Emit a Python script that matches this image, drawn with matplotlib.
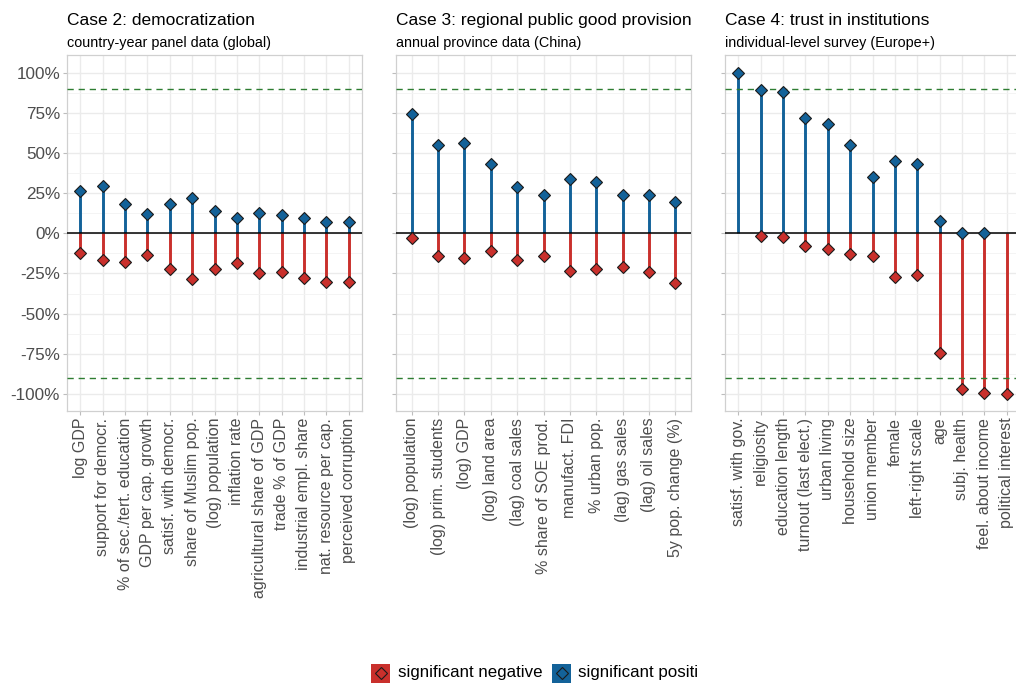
import numpy as np
import matplotlib
matplotlib.use("Agg")
import matplotlib.pyplot as plt
from matplotlib.patches import Rectangle
from matplotlib.lines import Line2D

plt.rcParams['font.family'] = ['Liberation Sans', 'DejaVu Sans']

nan = np.nan

# Case 2: democratization
cats_a = ["log GDP", "support for democr.", "% of sec./tert. education",
          "GDP per cap. growth", "satisf. with democr.", "share of Muslim pop.",
          "(log) population", "inflation rate", "agricultural share of GDP",
          "trade % of GDP", "industrial empl. share", "nat. resource per cap.",
          "perceived corruption"]
pos_a = [0.265, 0.295, 0.18, 0.12, 0.18, 0.22, 0.137, 0.095, 0.127, 0.114, 0.098, 0.073, 0.073]
neg_a = [-0.124, -0.168, -0.18, -0.135, -0.222, -0.286, -0.22, -0.185, -0.249, -0.239, -0.28, -0.30, -0.30]

# Case 3: regional public good provision
cats_b = ["(log) population", "(log) prim. students", "(log) GDP", "(log) land area",
          "(lag) coal sales", "% share of SOE prod.", "manufact. FDI", "% urban pop.",
          "(lag) gas sales", "(lag) oil sales", "5y pop. change (%)"]
pos_b = [0.74, 0.552, 0.564, 0.429, 0.286, 0.239, 0.336, 0.317, 0.237, 0.239, 0.193]
neg_b = [-0.031, -0.141, -0.156, -0.11, -0.166, -0.141, -0.237, -0.222, -0.207, -0.239, -0.309]

# Case 4: trust in institutions
cats_c = ["satisf. with gov.", "religiosity", "education length", "turnout (last elect.)",
          "urban living", "household size", "union member", "female", "left-right scale",
          "age", "subj. health", "feel. about income", "political interest"]
pos_c = [1.0, 0.89, 0.88, 0.72, 0.68, 0.55, 0.35, 0.452, 0.434, 0.079, 0.0, 0.0, nan]
neg_c = [nan, -0.019, -0.021, -0.081, -0.097, -0.127, -0.143, -0.27, -0.259, -0.745, -0.971, -0.996, -1.0]

titles = ["Case 2: democratization", "Case 3: regional public good provision",
          "Case 4: trust in institutions"]
subtitles = ["country-year panel data (global)", "annual province data (China)",
             "individual-level survey (Europe+)"]

y_ticks = [-1.0, -0.75, -0.5, -0.25, 0.0, 0.25, 0.5, 0.75, 1.0]
y_labels = ["-100%", "-75%", "-50%", "-25%", "0%", "25%", "50%", "75%", "100%"]
threshold = 0.9

legend_labels = ["significant negative", "significant positi"]

BLUE = "#136299"
RED = "#c9302c"
GREEN = "#2e7d32"
GRID = "#ebebeb"
BORDER = "#d0d0d0"
TXT = "#4d4d4d"

W, H = 1016, 683
fig = plt.figure(figsize=(W / 100, H / 100), dpi=100)

panel_left = [67, 396, 725]
panel_w = 295
top_px, bot_px = 55, 410.7

panels = [(cats_a, pos_a, neg_a), (cats_b, pos_b, neg_b), (cats_c, pos_c, neg_c)]

for i, (cats, pos, neg) in enumerate(panels):
    x0 = panel_left[i]
    ax = fig.add_axes([x0 / W, 1 - bot_px / H, panel_w / W, (bot_px - top_px) / H])
    n = len(cats)
    x = np.arange(1, n + 1)
    pos = np.asarray(pos, float)
    neg = np.asarray(neg, float)

    ax.set_xlim(0.4, n + 0.6)
    ax.set_ylim(-1.104, 1.11)

    # grid
    ax.set_yticks(y_ticks)
    ax.set_yticks([v + 0.125 for v in y_ticks[:-1]], minor=True)
    ax.set_xticks(x)
    ax.grid(True, which="major", color=GRID, lw=1.0, zorder=0)
    ax.grid(True, which="minor", axis="y", color="#f3f3f3", lw=0.6, zorder=0)
    ax.set_axisbelow(True)

    for s in ax.spines.values():
        s.set_color(BORDER)
        s.set_linewidth(0.9)

    # stems
    for xi, p in zip(x, pos):
        if not np.isnan(p):
            ax.plot([xi, xi], [0, p], color=BLUE, lw=2.1, solid_capstyle="butt", zorder=2)
    for xi, q in zip(x, neg):
        if not np.isnan(q):
            ax.plot([xi, xi], [0, q], color=RED, lw=2.1, solid_capstyle="butt", zorder=2)

    ax.axhline(0, color="black", lw=1.1, zorder=3)
    for t in (threshold, -threshold):
        ax.plot([0.4, n + 0.6], [t, t], color=GREEN, lw=1.0, dashes=(4.5, 3.5), zorder=3)

    ax.plot(x, neg, ls="none", marker="D", ms=6.2, mfc=RED, mec="#1a1a1a", mew=0.8, zorder=4)
    ax.plot(x, pos, ls="none", marker="D", ms=6.2, mfc=BLUE, mec="#1a1a1a", mew=0.8, zorder=4)

    ax.set_xticklabels(cats, rotation=90, ha="center", va="top", fontsize=11.5, color=TXT)
    if i == 0:
        ax.set_yticklabels(y_labels, fontsize=12.3, color=TXT)
    else:
        ax.set_yticklabels([])
    ax.tick_params(axis="both", which="major", length=3, width=0.8, color="#bdbdbd", pad=2)
    ax.tick_params(axis="y", which="minor", length=0)

    fig.text(x0 / W, 1 - 25 / H, titles[i], fontsize=12.5, color="black", va="baseline", ha="left")
    fig.text(x0 / W, 1 - 46.5 / H, subtitles[i], fontsize=10.4, color="black", va="baseline", ha="left")

# legend
cy = 673
for (lx, tx), lab, col in zip([(371, 398), (552, 578)], legend_labels, [RED, BLUE]):
    fig.patches.append(Rectangle((lx / W, (H - cy - 9.5) / H), 19 / W, 19 / H,
                                 transform=fig.transFigure, facecolor=col, edgecolor="none"))
    fig.lines.append(Line2D([(lx + 9.5) / W], [(H - cy) / H], transform=fig.transFigure,
                            marker="D", ms=6.2, mfc=col, mec="#1a1a1a", mew=0.8, ls="none"))
    fig.text(tx / W, (H - cy) / H, lab, fontsize=12.2, color="black", va="center", ha="left")

fig.savefig("out.png", dpi=100)
